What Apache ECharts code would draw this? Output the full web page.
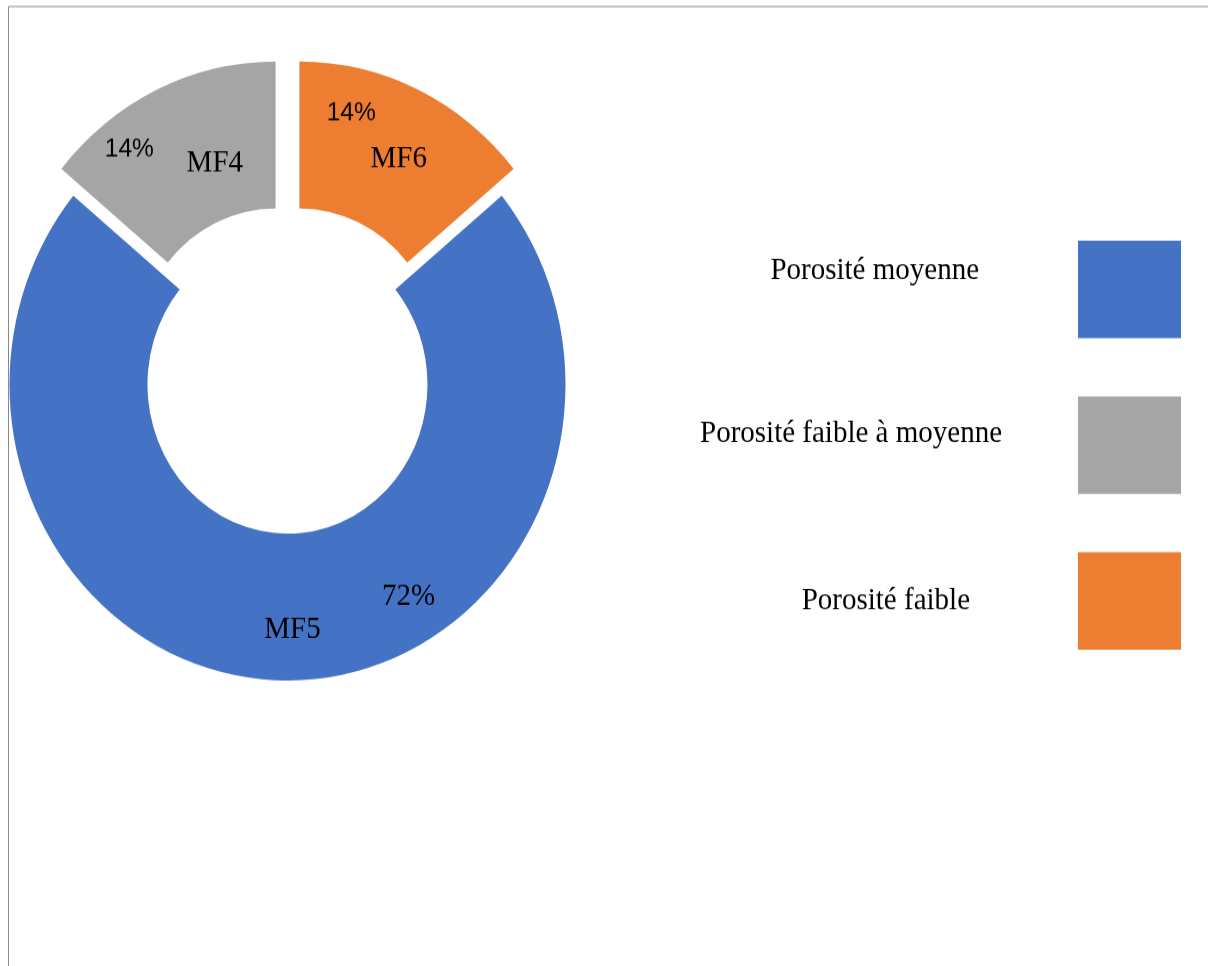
<!DOCTYPE html>
<html>
<head>
<meta charset="utf-8">
<script src="https://cdn.jsdelivr.net/npm/echarts@6/dist/echarts.min.js"></script>
<style>
html,body{margin:0;padding:0;background:#fff;overflow:hidden}
#wrap{position:absolute;left:0;top:0;width:1208px;height:966px;overflow:hidden;background:#fff}
#chart{width:1208px;height:907px;transform:scaleY(1.065);transform-origin:0 0}
</style>
</head>
<body>
<div id="wrap"><div id="chart"></div></div>
<script>
// ---- data ----
const categories = ['MF5', 'MF4', 'MF6'];
const facies = ['Porosité moyenne', 'Porosité faible à moyenne', 'Porosité faible'];
const shares = [72, 14, 14];
const exploded = [false, true, true];

// ---- styles / layout ----
const colors = ['#4472C4', '#A5A5A5', '#ED7D31'];
const nameOffsets = [[5, 18.6], [29.5, 9.2], [9, 5.5]];
const pctOffsets = [[121, -12.5], [-56, -4], [-38.5, -37.5]];
const pctFonts = [
  { fontFamily: 'Liberation Serif', fontSize: 29 },
  { fontFamily: 'Liberation Sans', fontSize: 24.5 },
  { fontFamily: 'Liberation Sans', fontSize: 24.5 }
];
const legendPads = [[0, 94, 34, 0], [0, 71, 22, 0], [0, 103, 0, 0]];

const total = shares.reduce((a, b) => a + b, 0);
// blue slice centred at the bottom (ECharts degrees, clockwise)
const startAngle = 270 + (shares[0] / total) * 360 / 2 - 360;

const chart = echarts.init(document.getElementById('chart'), null, { renderer: 'canvas' });

const rich = {};
legendPads.forEach((p, i) => {
  rich['t' + i] = { fontFamily: 'Liberation Serif', fontSize: 29, color: '#000', padding: p };
});

const baseData = (transparent) => facies.map((n, i) => ({
  name: n,
  value: shares[i],
  selected: exploded[i],
  itemStyle: { color: transparent ? 'rgba(0,0,0,0)' : colors[i] },
  select: { itemStyle: { color: transparent ? 'rgba(0,0,0,0)' : colors[i], borderWidth: 0 } }
}));

chart.setOption({
  animation: false,
  backgroundColor: '#fff',
  graphic: [{
    type: 'rect', silent: true, z: -10,
    shape: { x: 8.5, y: 6.1, width: 1400, height: 1200 },
    style: { fill: 'none', stroke: '#898989', lineWidth: 1 }
  }],
  legend: {
    orient: 'vertical',
    right: 27,
    top: 226,
    padding: 0,
    itemWidth: 103,
    itemHeight: 91.5,
    itemGap: 54.8,
    align: 'right',
    icon: 'rect',
    selectedMode: false,
    data: facies,
    formatter: (name) => '{t' + facies.indexOf(name) + '|' + name + '}',
    textStyle: { fontFamily: 'Liberation Serif', fontSize: 29, color: '#000', rich: rich }
  },
  series: [
    {
      type: 'pie',
      center: [287.5, 361],
      radius: [140, 278],
      startAngle: startAngle,
      clockwise: true,
      selectedMode: 'multiple',
      selectedOffset: 28,
      avoidLabelOverlap: false,
      emphasis: { disabled: true },
      label: {
        show: true,
        position: 'inside',
        formatter: (p) => categories[p.dataIndex],
        fontFamily: 'Liberation Serif',
        fontSize: 29,
        color: '#000'
      },
      labelLine: { show: false },
      labelLayout: (p) => ({ dx: nameOffsets[p.dataIndex][0], dy: nameOffsets[p.dataIndex][1] }),
      data: baseData(false)
    },
    {
      type: 'pie',
      silent: true,
      center: [287.5, 361],
      radius: [140, 278],
      startAngle: startAngle,
      clockwise: true,
      selectedMode: 'multiple',
      selectedOffset: 28,
      avoidLabelOverlap: false,
      emphasis: { disabled: true },
      label: {
        show: true,
        position: 'inside',
        color: '#000',
        formatter: (p) => '{f' + p.dataIndex + '|' + Math.round(p.value / total * 100) + '%}',
        rich: {
          f0: Object.assign({ color: '#000' }, pctFonts[0]),
          f1: Object.assign({ color: '#000' }, pctFonts[1]),
          f2: Object.assign({ color: '#000' }, pctFonts[2])
        }
      },
      labelLine: { show: false },
      labelLayout: (p) => ({ dx: pctOffsets[p.dataIndex][0], dy: pctOffsets[p.dataIndex][1] }),
      data: baseData(true)
    }
  ]
});
</script>
</body>
</html>
